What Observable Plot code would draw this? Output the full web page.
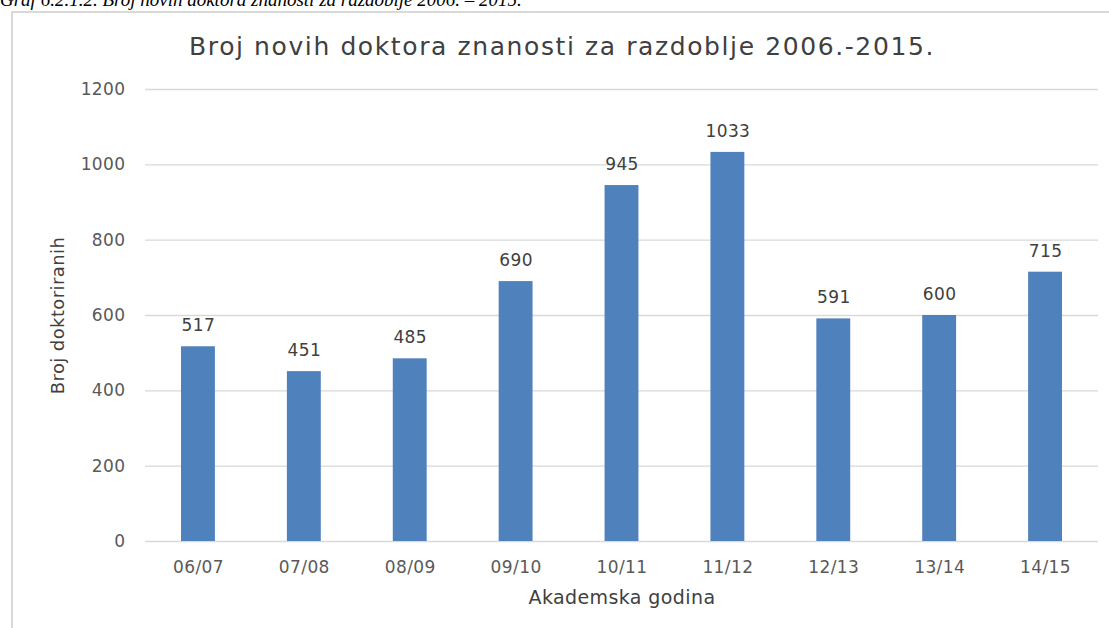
<!DOCTYPE html>
<html>
<head>
<meta charset="utf-8">
<script src="https://cdn.jsdelivr.net/npm/d3@7"></script>
<script src="https://cdn.jsdelivr.net/npm/@observablehq/plot@0.6"></script>
<style>
  html, body { margin: 0; padding: 0; background: #fff; width: 1109px; height: 628px; overflow: hidden; }
  #caption { position: absolute; left: 0; top: -11px; font-family: "Liberation Serif", serif; font-style: italic; font-size: 19px; color: #000; white-space: nowrap; }
  #frame { position: absolute; left: 11px; top: 11px; width: 1120px; height: 640px; border-left: 2px solid #d9d9d9; border-top: 2px solid #d9d9d9; }
  #title { position: absolute; left: 0; width: 1124px; top: 32px; text-align: center; font-family: "DejaVu Sans", sans-serif; font-size: 25px; letter-spacing: 1.6px; color: #404040; }
  #chart { position: absolute; left: 0; top: 70px; }
</style>
</head>
<body>
<div id="caption">Graf 6.2.1.2. Broj novih doktora znanosti za razdoblje 2006. – 2015.</div>
<div id="frame"></div>
<div id="title">Broj novih doktora znanosti za razdoblje 2006.-2015.</div>
<div id="chart"></div>
<script>
const years = ["06/07", "07/08", "08/09", "09/10", "10/11", "11/12", "12/13", "13/14", "14/15"];
const counts = [517, 451, 485, 690, 945, 1033, 591, 600, 715];
const yTicks = [0, 200, 400, 600, 800, 1000, 1200];

const data = years.map((y, i) => ({year: y, count: counts[i]}));

const chart = Plot.plot({
  width: 1109,
  height: 558,
  marginLeft: 145,
  marginRight: 11,
  marginTop: 19,
  marginBottom: 87,
  style: {fontFamily: "DejaVu Sans, sans-serif", fontSize: "17px", color: "#595959", background: "transparent", letterSpacing: "0.4px"},
  x: {domain: years, paddingInner: 0.68, paddingOuter: 0.34, round: false},
  y: {domain: [0, 1200]},
  marks: [
    Plot.gridY(yTicks, {stroke: "#d9d9d9", strokeOpacity: 1, strokeWidth: 1.3}),
    Plot.barY(data, {x: "year", y: "count", fill: "#4f81bd"}),
    Plot.text(data, {x: "year", y: "count", text: d => String(d.count), dy: -21, fill: "#404040", fontSize: 17}),
    Plot.axisY(yTicks, {tickSize: 0, tickPadding: 20, tickFormat: d => String(d), label: null, fontSize: 17, color: "#595959"}),
    Plot.axisY({label: "Broj doktoriranih", labelAnchor: "center", labelOffset: 94, labelArrow: "none", ticks: [], tickSize: 0, fontSize: 18, color: "#404040"}),
    Plot.axisX({tickSize: 0, tickPadding: 19, label: null, fontSize: 17, color: "#595959"}),
    Plot.axisX({label: "Akademska godina", labelAnchor: "center", labelOffset: 62, labelArrow: "none", ticks: [], tickSize: 0, fontSize: 19, color: "#404040"})
  ]
});
document.getElementById("chart").appendChild(chart);
</script>
</body>
</html>
